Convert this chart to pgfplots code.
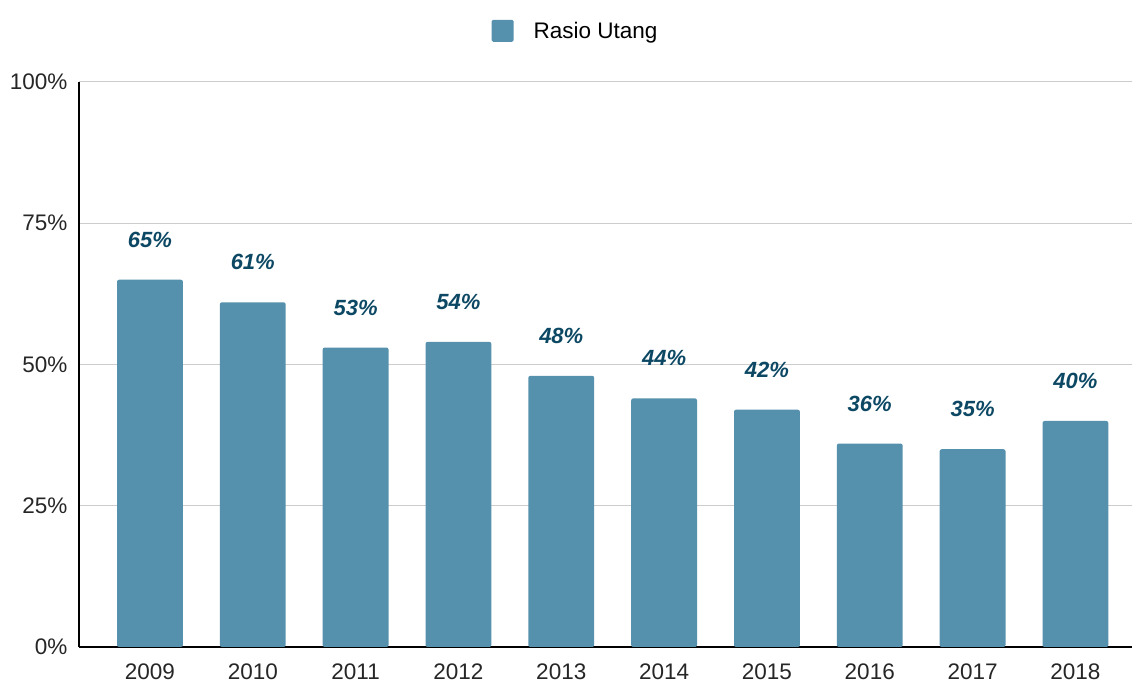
\documentclass[border=0pt]{standalone}
\usepackage{fontspec}
\setmainfont{Liberation Sans}
\usepackage{pgfplots}
\pgfplotsset{compat=1.18}
\definecolor{barblue}{HTML}{5591AD}
\definecolor{lblblue}{HTML}{0C4864}
\definecolor{gridgray}{HTML}{CCCCCC}
\begin{document}
\begin{tikzpicture}[x=1pt,y=1pt]
\path[use as bounding box] (-79,-37) rectangle (1053,647);
\begin{axis}[
  at={(0,0)}, anchor=south west,
  scale only axis, width=1053pt, height=565pt,
  xmin=-0.69, xmax=9.55, ymin=0, ymax=100,
  axis x line*=bottom, axis y line*=left,
  axis line style={-, black, line width=1.2pt},
  xtick={0,...,9},
  xticklabels={2009,2010,2011,2012,2013,2014,2015,2016,2017,2018},
  ytick={0,25,50,75,100},
  yticklabels={0\%,25\%,50\%,75\%,100\%},
  major tick length=0pt,
  ymajorgrids, grid style={gridgray, line width=1pt},
  tick label style={font=\fontsize{22.5}{26}\selectfont, text=black!85},
  xticklabel style={yshift=-13pt},
  yticklabel style={xshift=-8pt},
  /pgf/number format/assume math mode=true,
  legend style={at={(0.5,1)}, anchor=south, yshift=38pt, xshift=-30pt, draw=none,
    font=\fontsize{22.5}{26}\selectfont,
    /tikz/every odd column/.append style={column sep=18pt}},
  legend image code/.code={\fill[barblue, rounded corners=1.5pt] (0pt,-11pt) rectangle (22pt,11pt);},
  legend cell align=left,
  nodes near coords={\pgfmathprintnumber{\pgfplotspointmeta}\%},
  every node near coord/.style={font=\bfseries\itshape\fontsize{22}{26}\selectfont, text=lblblue, anchor=center, yshift=40pt},
  clip=false,
]
\addplot[ybar, bar width=0.64, fill=barblue, draw=none, rounded corners=2pt] coordinates {
(0,65) (1,61) (2,53) (3,54) (4,48) (5,44) (6,42) (7,36) (8,35) (9,40)
};
\addlegendentry{Rasio Utang}
\end{axis}
\end{tikzpicture}
\end{document}
